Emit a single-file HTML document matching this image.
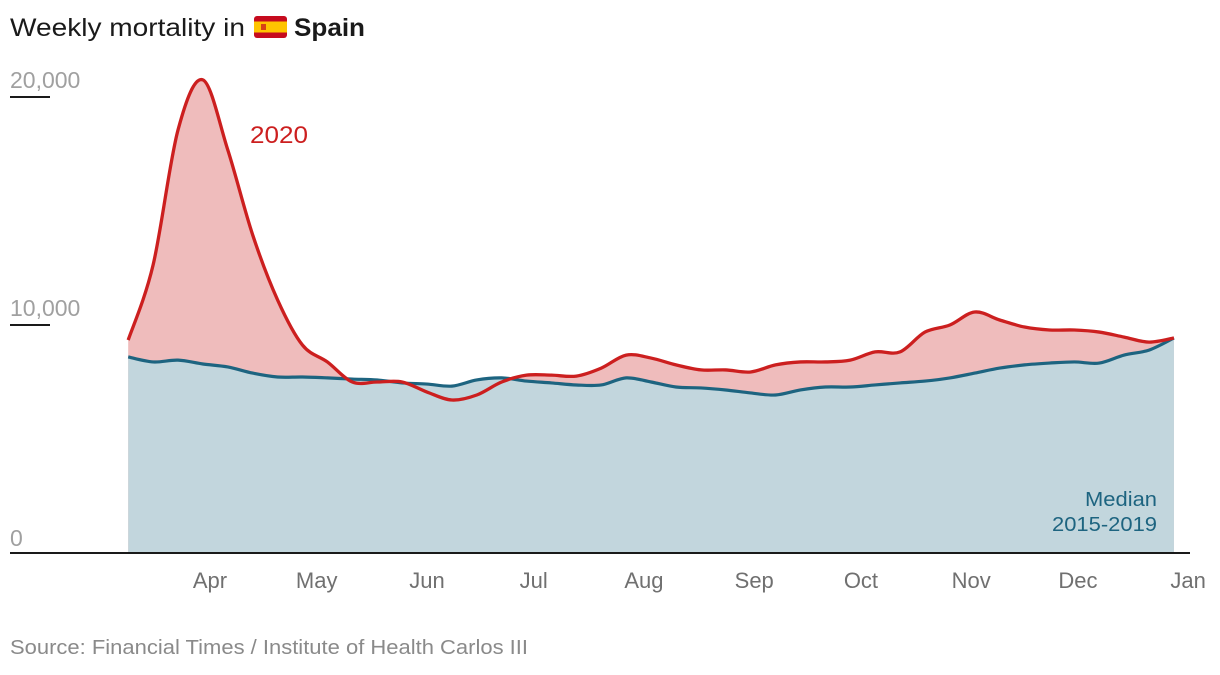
<!DOCTYPE html>
<html><head><meta charset="utf-8"><style>
body{margin:0;background:#fff;width:1220px;height:670px;overflow:hidden;font-family:"Liberation Sans",sans-serif}
</style></head><body>
<svg id="chart" width="1220" height="670" viewBox="0 0 1220 670" xmlns="http://www.w3.org/2000/svg" font-family="Liberation Sans, sans-serif">
<text x="10" y="36" font-size="25" fill="#1a1a1a" textLength="235" lengthAdjust="spacingAndGlyphs">Weekly mortality in</text>
<g transform="translate(254,16)">
<rect width="33" height="22" rx="3" fill="#c60b1e"/><rect y="5.5" width="33" height="11" fill="#ffc400"/><rect x="7" y="8" width="5" height="6" fill="#c60b1e" opacity="0.7"/></g>
<text x="294" y="36" font-size="25" font-weight="bold" fill="#1a1a1a" textLength="71" lengthAdjust="spacingAndGlyphs">Spain</text>
<g id="yaxis"></g>
<g id="areas"></g>
<g id="xaxis"></g>
<text x="250" y="143" font-size="24" fill="#cc1f1f" textLength="58" lengthAdjust="spacingAndGlyphs">2020</text>
<text x="1157" y="506" font-size="20" fill="#1d6480" text-anchor="end" textLength="72" lengthAdjust="spacingAndGlyphs">Median</text>
<text x="1157" y="531" font-size="20" fill="#1d6480" text-anchor="end" textLength="105" lengthAdjust="spacingAndGlyphs">2015-2019</text>
<text x="10" y="654" font-size="20" fill="#8a8a8a" textLength="518" lengthAdjust="spacingAndGlyphs">Source: Financial Times / Institute of Health Carlos III</text>
</svg>
<script>
const values2020=[9340,12630,18550,20750,17680,13950,11100,9120,8380,7500,7500,7500,7060,6710,6930,7500,7800,7800,7760,8110,8680,8550,8250,8030,8030,7940,8250,8380,8380,8460,8820,8820,9690,10000,10570,10220,9910,9780,9780,9690,9470,9250,9430];
const valuesMedian=[8600,8380,8460,8290,8160,7890,7720,7720,7680,7630,7590,7460,7410,7320,7590,7680,7540,7460,7370,7370,7680,7500,7280,7240,7150,7020,6930,7150,7280,7280,7370,7460,7540,7680,7890,8110,8250,8330,8380,8330,8680,8900,9430];
const yTicks=[0,10000,20000];
const yTickLabels=["0","10,000","20,000"];
const months=["Apr","May","Jun","Jul","Aug","Sep","Oct","Nov","Dec","Jan"];
const monthDays=[0,30,61,91,122,153,183,214,244,275]; // days after Apr 1
const startDay=-23; // first week, days from Apr 1
const NS="http://www.w3.org/2000/svg";
const svg=document.getElementById('chart');
const X0=210,PXD=3.557,Y0=553,PXV=228/10000;
const x=d=>X0+d*PXD, y=v=>Y0-v*PXV;
const wx=i=>x(startDay+i*7);
function mk(tag,attrs,parent){const e=document.createElementNS(NS,tag);for(const k in attrs)e.setAttribute(k,attrs[k]);(parent||svg).appendChild(e);return e;}
function smooth(vals){let p=vals.map((v,i)=>[wx(i),y(v)]);let d=`M${p[0][0]},${p[0][1]}`;
for(let i=0;i<p.length-1;i++){const a=p[i-1]||p[i],b=p[i],c=p[i+1],e=p[i+2]||c;
d+=`C${b[0]+(c[0]-a[0])/6},${b[1]+(c[1]-a[1])/6} ${c[0]-(e[0]-b[0])/6},${c[1]-(e[1]-b[1])/6} ${c[0]},${c[1]}`;}return d;}
const areas=document.getElementById('areas');
const n=values2020.length;
const close=`L${wx(n-1)},${Y0}L${wx(0)},${Y0}Z`;
let e;
e=mk('path',{d:smooth(values2020)+close,fill:'#efbcbc'},areas);

e=mk('path',{d:smooth(valuesMedian)+close,fill:'#c2d6dd'},areas);

e=mk('path',{d:smooth(valuesMedian),fill:'none',stroke:'#1d6480','stroke-width':3.2},areas);

e=mk('path',{d:smooth(values2020),fill:'none',stroke:'#cc1f1f','stroke-width':3.3},areas);

const ya=document.getElementById('yaxis');
yTicks.forEach((v,i)=>{
 if(v>0){const l=mk('line',{x1:10,x2:50,y1:y(v),y2:y(v),stroke:'#1a1a1a','stroke-width':2},ya);
 }
 const t=mk('text',{x:10,y:y(v)-(v>0?9:7),'font-size':23,fill:'#a0a0a0'},ya);t.textContent=yTickLabels[i];
 
});
const xa=document.getElementById('xaxis');
e=mk('line',{x1:10,x2:1190,y1:Y0,y2:Y0,stroke:'#1a1a1a','stroke-width':2},xa);

months.forEach((m,i)=>{const t=mk('text',{x:x(monthDays[i]),y:588,'font-size':22,fill:'#707070','text-anchor':'middle'},xa);t.textContent=m;
});
</script>
</body></html>
